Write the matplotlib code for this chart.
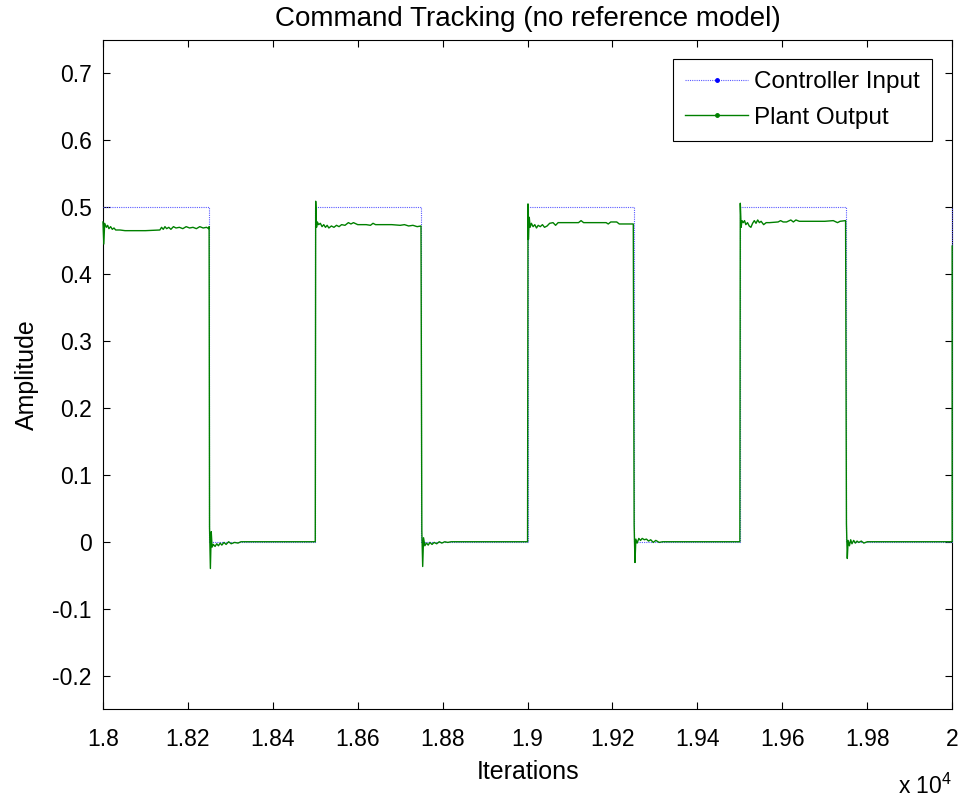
import matplotlib
matplotlib.use("Agg")
from matplotlib import pyplot as plt
from matplotlib.lines import Line2D
from matplotlib.ticker import FuncFormatter

plt.rcParams['font.family'] = ['Liberation Sans', 'DejaVu Sans']
plt.rcParams['mathtext.default'] = 'regular'

# controller input: square command (step times and levels)
input_x = [18000, 18250, 18500, 18750, 19000, 19250, 19500, 19750, 20000]
input_y = [0.5, 0.0, 0.5, 0.0, 0.5, 0.0, 0.5, 0.0, 0.5]

# plant output
plant_x = [
    18000, 18002, 18004, 18008, 18011, 18014, 18018, 18022, 18026, 18030,
    18040, 18052, 18100, 18134, 18138, 18142, 18146, 18150, 18155, 18160,
    18166, 18172, 18180, 18188, 18196, 18204, 18212, 18220, 18228, 18236,
    18244, 18249, 18250,
    18251, 18253, 18255, 18257, 18260, 18264, 18268, 18272, 18276, 18280,
    18285, 18290, 18296, 18302, 18310, 18318, 18325, 18500,
    18501, 18503, 18505, 18508, 18512, 18516, 18520, 18524, 18528, 18532,
    18538, 18544, 18550, 18556, 18562, 18570, 18578, 18584, 18590, 18600,
    18620, 18630, 18636, 18642, 18680, 18700, 18710, 18720, 18730, 18740,
    18749,
    18751, 18753, 18755, 18758, 18762, 18766, 18770, 18775, 18780, 18786,
    18792, 18798, 18805, 18812, 18820, 19000,
    19001, 19002, 19004, 19006, 19009, 19013, 19017, 19021, 19025, 19030,
    19035, 19040, 19046, 19052, 19060, 19066, 19072, 19100, 19120, 19126,
    19132, 19185, 19190, 19196, 19210, 19216, 19249,
    19251, 19253, 19255, 19258, 19262, 19266, 19270, 19275, 19280, 19285,
    19290, 19296, 19302, 19310, 19318, 19500,
    19501, 19503, 19505, 19508, 19511, 19514, 19518, 19522, 19526, 19530,
    19534, 19538, 19542, 19546, 19550, 19556, 19562, 19570, 19590, 19596,
    19602, 19610, 19620, 19626, 19632, 19640, 19660, 19700, 19720, 19730,
    19736, 19749,
    19751, 19753, 19755, 19758, 19761, 19764, 19768, 19772, 19776, 19780,
    19786, 19792, 19800, 20000, 20000,
]
plant_y = [
    0.478, 0.445, 0.476, 0.470, 0.473, 0.468, 0.471, 0.467, 0.469, 0.466,
    0.466, 0.465, 0.465, 0.466, 0.470, 0.467, 0.471, 0.468, 0.470, 0.467,
    0.471, 0.469, 0.470, 0.468, 0.471, 0.469, 0.470, 0.468, 0.471, 0.469,
    0.470, 0.468, 0.471,
    0.022, -0.040, 0.015, -0.008, -0.004, -0.007, -0.003, -0.006, -0.002, -0.005,
    -0.001, -0.004, 0.000, -0.003, -0.001, -0.002, 0.000, 0.000,
    0.509, 0.470, 0.478, 0.474, 0.476, 0.471, 0.474, 0.470, 0.473, 0.469,
    0.472, 0.470, 0.473, 0.471, 0.474, 0.473, 0.477, 0.475, 0.477, 0.474,
    0.474, 0.473, 0.476, 0.474, 0.474, 0.473, 0.474, 0.472, 0.473, 0.471,
    0.472,
    0.016, -0.037, 0.006, -0.006, -0.002, -0.005, -0.001, -0.004, -0.001, -0.003,
    0.000, -0.002, 0.000, -0.001, 0.000, 0.000,
    0.505, 0.452, 0.485, 0.470, 0.476, 0.471, 0.474, 0.469, 0.473, 0.471,
    0.474, 0.470, 0.472, 0.476, 0.477, 0.473, 0.477, 0.477, 0.477, 0.480,
    0.477, 0.477, 0.475, 0.478, 0.478, 0.475, 0.475,
    0.025, -0.031, 0.004, -0.002, 0.005, 0.002, 0.005, 0.003, 0.004, 0.001,
    0.003, -0.001, 0.002, -0.001, 0.000, 0.000,
    0.506, 0.470, 0.480, 0.477, 0.480, 0.474, 0.477, 0.472, 0.470, 0.476,
    0.480, 0.476, 0.481, 0.477, 0.479, 0.474, 0.477, 0.477, 0.478, 0.480,
    0.478, 0.478, 0.481, 0.478, 0.481, 0.479, 0.479, 0.479, 0.480, 0.477,
    0.479, 0.480,
    0.027, -0.025, 0.002, -0.006, 0.003, -0.003, 0.002, -0.002, 0.001, -0.001,
    0.001, -0.002, 0.000, 0.000, 0.442,
]

x_ticks = [18000, 18200, 18400, 18600, 18800, 19000, 19200, 19400, 19600, 19800, 20000]
y_ticks = [-0.2, -0.1, 0, 0.1, 0.2, 0.3, 0.4, 0.5, 0.6, 0.7]

input_color = '#5a5aff'
plant_color = (0, 0.5, 0)

fig = plt.figure(figsize=(9.65, 8), dpi=100)
ax = fig.add_axes([0.1067, 0.11375, 0.88, 0.83625])

ax.plot(input_x, input_y, drawstyle='steps-post', color=input_color,
        linestyle=(0, (1, 1)), linewidth=0.8, clip_on=False, zorder=3)
ax.plot(plant_x, plant_y, color=plant_color, linewidth=1.0,
        clip_on=False, zorder=3)

ax.set_xlim(18000, 20000)
ax.set_ylim(-0.25, 0.75)
ax.set_xticks(x_ticks)
ax.set_yticks(y_ticks)
ax.xaxis.set_major_formatter(FuncFormatter(lambda v, p: '%g' % round(v / 1e4, 4)))
ax.yaxis.set_major_formatter(FuncFormatter(lambda v, p: '%g' % round(v, 4)))
ax.tick_params(direction='in', length=5, width=0.8, labelsize=16.5,
               top=True, right=True)
ax.tick_params(axis='y', pad=8)
ax.tick_params(axis='x', pad=14)
for s in ax.spines.values():
    s.set_linewidth(0.8)

ax.set_title('Command Tracking (no reference model)', fontsize=20, pad=10)
ax.set_xlabel('Iterations', fontsize=18, labelpad=6)
ax.set_ylabel('Amplitude', fontsize=18, labelpad=10)
fig.text(0.986, 0.008, r'x 10$^{4}$', fontsize=16.5, ha='right', va='baseline')

handles = [
    Line2D([], [], color=input_color, linestyle=(0, (1, 1)), linewidth=0.8,
           marker='.', markersize=5, markerfacecolor='blue',
           markeredgecolor='blue'),
    Line2D([], [], color=plant_color, linewidth=1.0, marker='.', markersize=5),
]
leg = ax.legend(handles, ['Controller Input', 'Plant Output'],
                loc='upper right', bbox_to_anchor=(0.9764, 0.9716),
                borderaxespad=0, fontsize=17.5, handlelength=2.6,
                handletextpad=0.25, labelspacing=0.55, borderpad=0.5,
                numpoints=1, fancybox=False, framealpha=1, edgecolor='black')
leg.get_frame().set_linewidth(0.8)

fig.savefig('out.png', dpi=100)
